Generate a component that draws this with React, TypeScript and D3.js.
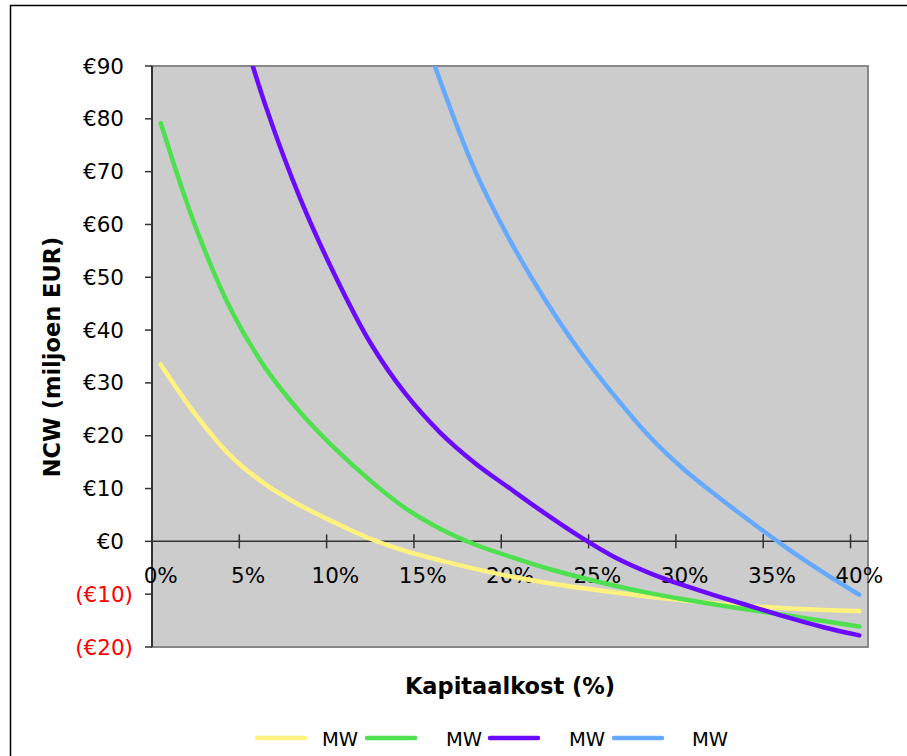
import React from "react";
import * as d3 from "d3";

// capital cost (%) categories, one point every 2%
const rates = [0, 2, 4, 6, 8, 10, 12, 14, 16, 18, 20, 22, 24, 26, 28, 30, 32, 34, 36, 38, 40];

// NPV in million EUR per series (null = no point drawn)
const yellowValues = [33.5, 24.0, 16.2, 10.8, 6.8, 3.5, 0.5, -1.8, -3.6, -5.2, -6.6, -7.8, -8.8, -9.7, -10.5, -11.2, -11.8, -12.3, -12.7, -13.0, -13.2];
const greenValues = [79.2, 59.5, 44.0, 32.8, 24.4, 17.5, 11.5, 6.3, 2.4, -0.6, -2.9, -5.0, -6.8, -8.4, -9.8, -11.0, -12.1, -13.1, -14.1, -15.1, -16.1];
const purpleValues = [null, null, 104, 82.5, 64.8, 50.2, 37.6, 28.0, 20.6, 14.8, 10.0, 5.3, 0.9, -3.0, -6.0, -8.4, -10.5, -12.5, -14.5, -16.3, -17.8];
const blueValues = [null, null, null, null, null, null, null, 107, 87.2, 70.2, 57.0, 45.8, 36.0, 27.5, 19.8, 13.5, 8.2, 3.2, -1.6, -6.0, -10.1];

const seriesNames = ["MW", "MW", "MW", "MW"];
const yTicks = [-20, -10, 0, 10, 20, 30, 40, 50, 60, 70, 80, 90];
const xTicks = [0, 5, 10, 15, 20, 25, 30, 35, 40];

const colors = ["#fff27f", "#4fe04f", "#6a0aff", "#66aaff"];
const FONT = "'DejaVu Sans', Verdana, sans-serif";

const W = 907;
const H = 756;
const plot = { left: 152, top: 66, right: 868, bottom: 647 };

const App: React.FC = () => {
  const series = [yellowValues, greenValues, purpleValues, blueValues];

  // category axis: each % is a band, points sit in the middle of the band
  const x = d3.scaleLinear().domain([-0.5, 40.5]).range([plot.left, plot.right]);
  const y = d3.scaleLinear().domain([-20, 90]).range([plot.bottom, plot.top]);

  const line = d3
    .line<number | null>()
    .defined((d) => d !== null)
    .x((_, i) => x(rates[i]))
    .y((d) => y(d as number))
    .curve(d3.curveCatmullRom.alpha(0.5));

  // Excel style: negatives in parentheses, the ")" hangs past the column
  const fmt = (v: number) => (v < 0 ? `(€${-v})` : `€${v}`);

  const legendLineX = [257, 367, 490, 614];
  const legendTextX = [322, 446, 569, 692];

  return (
    <svg
      width={W}
      height={H}
      style={{ position: "absolute", left: 0, top: 0, display: "block" }}
      fontFamily={FONT}
    >
      <rect x={0} y={0} width={W} height={H} fill="#fff" />
      <rect x={10.5} y={5.5} width={920} height={780} fill="none" stroke="#000" strokeWidth={1.5} />

      <defs>
        <clipPath id="plotClip">
          <rect x={plot.left} y={plot.top} width={plot.right - plot.left} height={plot.bottom - plot.top} />
        </clipPath>
      </defs>

      {/* plot area */}
      <rect
        x={plot.left}
        y={plot.top}
        width={plot.right - plot.left}
        height={plot.bottom - plot.top}
        fill="#cccccc"
        stroke="#888"
        strokeWidth={2}
      />

      {/* y axis */}
      <line x1={plot.left} x2={plot.left} y1={plot.top} y2={plot.bottom} stroke="#333" strokeWidth={2} />
      {yTicks.map((t) => (
        <g key={t}>
          <line x1={plot.left - 7} x2={plot.left} y1={y(t)} y2={y(t)} stroke="#333" strokeWidth={1.5} />
          <text
            x={t < 0 ? 133 : 124}
            y={y(t)}
            textAnchor="end"
            dominantBaseline="central"
            fontSize={21.5}
            fill={t < 0 ? "#ff0000" : "#000"}
          >
            {fmt(t)}
          </text>
        </g>
      ))}

      {/* x axis at zero */}
      <line x1={plot.left} x2={plot.right} y1={y(0)} y2={y(0)} stroke="#333" strokeWidth={1.5} />
      {xTicks.map((t) => (
        <g key={t}>
          <line x1={x(t - 0.5)} x2={x(t - 0.5)} y1={y(0) - 7} y2={y(0) + 7} stroke="#333" strokeWidth={1.5} />
          <text x={x(t)} y={y(0) + 34} textAnchor="middle" dominantBaseline="central" fontSize={21.5} fill="#000">
            {`${t}%`}
          </text>
        </g>
      ))}

      {/* lines */}
      <g clipPath="url(#plotClip)">
        {series.map((vals, i) => (
          <path
            key={i}
            d={line(vals) || ""}
            fill="none"
            stroke={colors[i]}
            strokeWidth={4.5}
            strokeLinecap="round"
            strokeLinejoin="round"
          />
        ))}
      </g>

      {/* axis titles */}
      <text
        transform={`translate(52,357) rotate(-90)`}
        textAnchor="middle"
        dominantBaseline="central"
        fontSize={22.5}
        fontWeight="bold"
      >
        NCW (miljoen EUR)
      </text>
      <text x={510} y={686} textAnchor="middle" dominantBaseline="central" fontSize={22.5} fontWeight="bold">
        Kapitaalkost (%)
      </text>

      {/* legend */}
      {seriesNames.map((name, i) => (
        <g key={i}>
          <line
            x1={legendLineX[i]}
            x2={legendLineX[i] + 48}
            y1={738}
            y2={738}
            stroke={colors[i]}
            strokeWidth={4.5}
            strokeLinecap="round"
          />
          <text x={legendTextX[i]} y={739} dominantBaseline="central" fontSize={19.5}>
            {name}
          </text>
        </g>
      ))}
    </svg>
  );
};

export default App;
